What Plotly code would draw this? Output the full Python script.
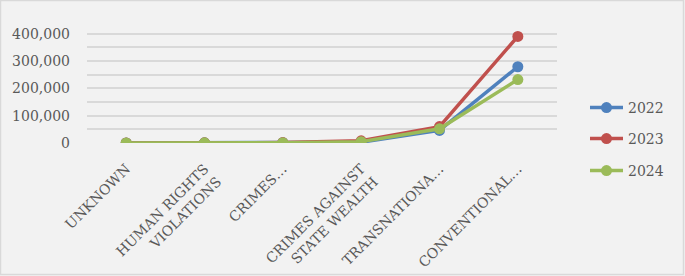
import plotly.graph_objects as go

categories = ["UNKNOWN", "HUMAN RIGHTS<br>VIOLATIONS", "CRIMES…", "CRIMES AGAINST<br>STATE WEALTH",
              "TRANSNATIONA…", "CONVENTIONAL…"]
years = ["2022", "2023", "2024"]
v2022 = [200, 600, 1200, 3000, 46000, 279000]
v2023 = [300, 700, 1500, 8000, 60000, 390000]
v2024 = [250, 650, 1300, 5000, 52000, 232000]
series = [v2022, v2023, v2024]
colors = ["#4F81BD", "#C0504D", "#9BBB59"]
ytick_vals = [0, 50000, 100000, 150000, 200000, 250000, 300000, 350000, 400000, 450000]
ytick_text = ["0", "", "100,000", "", "200,000", "", "300,000", "", "400,000", ""]

W, H = 685, 276
L, R, T, B = 87, 128, 20, 133
pw, ph = W - L - R, H - T - B

fig = go.Figure()
legend_names = ["legend", "legend2", "legend3"]
for i, (name, vals, c) in enumerate(zip(years, series, colors)):
    fig.add_trace(go.Scatter(
        x=categories, y=vals, name=name, mode="lines+markers",
        line=dict(color=c, width=3.5), marker=dict(color=c, size=11),
        legend=legend_names[i],
    ))

font = dict(family="DejaVu Serif", size=14, color="#595959")
leg_common = dict(font=font, bgcolor="rgba(0,0,0,0)", xanchor="left", yanchor="middle",
                  x=(585 - L) / pw, itemwidth=33)
legy = [108, 139, 171]
layout_legs = {}
for i, ln in enumerate(legend_names):
    layout_legs[ln] = dict(leg_common, y=1 - (legy[i] - T) / ph)

fig.update_layout(
    width=W, height=H,
    margin=dict(l=L, r=R, t=T, b=B, autoexpand=False),
    paper_bgcolor="#f2f2f2", plot_bgcolor="#f2f2f2",
    font=font,
    showlegend=True,
    **layout_legs,
    xaxis=dict(type="category", range=[-0.5, 5.5], tickangle=-45, showgrid=False,
               zeroline=False, showline=False, ticks="", tickfont=font, automargin=False,
               ticklabelstandoff=14),
    yaxis=dict(range=[0, 450000], tickvals=ytick_vals, ticktext=ytick_text,
               showgrid=True, gridcolor="#d9d9d9", gridwidth=1.5, zeroline=False,
               showline=False, ticks="", tickfont=font, ticklabelstandoff=16, automargin=False),
    shapes=[dict(type="rect", xref="paper", yref="paper",
                 x0=-(L - 0.5) / pw, x1=(W - L - 1.5) / pw,
                 y0=-(B - 1.5) / ph, y1=1 + (T - 0.5) / ph,
                 line=dict(color="#d9d9d9", width=1.5), fillcolor="rgba(0,0,0,0)", layer="below")],
)
fig.write_html("out.html", config={"displayModeBar": False},
               post_script="document.body.style.margin='0';document.body.style.background='#f2f2f2';")
